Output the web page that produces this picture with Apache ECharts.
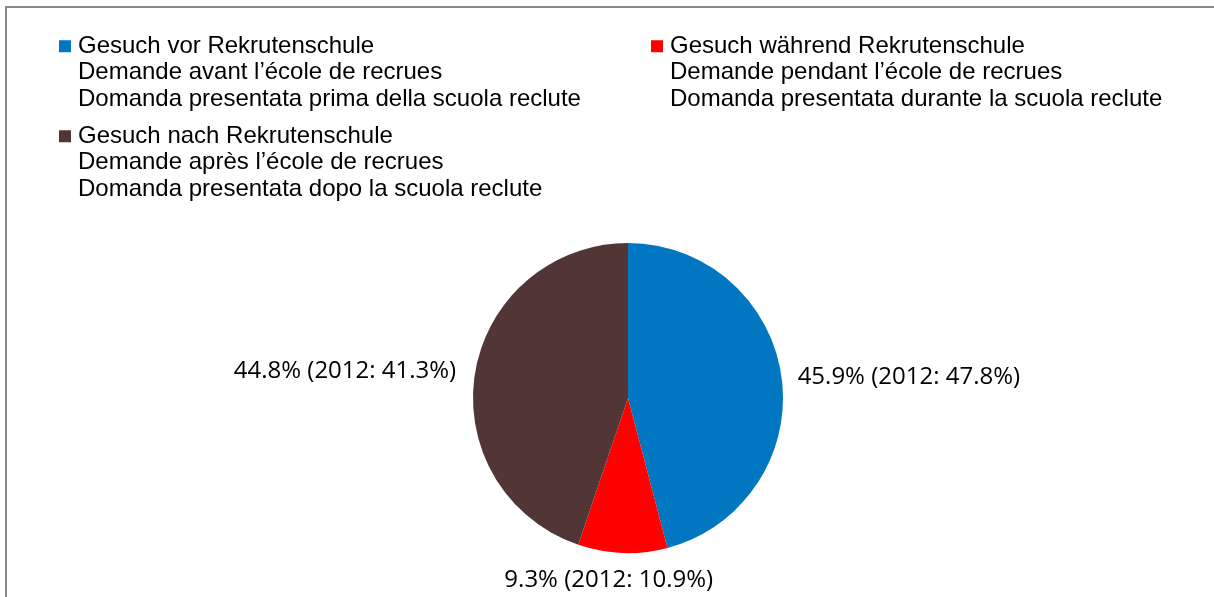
<!DOCTYPE html>
<html>

<head>
    <meta charset="utf-8" />
    <script src="https://cdn.jsdelivr.net/npm/echarts@6/dist/echarts.min.js"></script>
    <style>
        html, body { margin: 0; padding: 0; background: #fff; }
    </style>
</head>

<body>
    <div id="main" style="width: 1214px; height: 597px;"></div>
    <script type="text/javascript">
        // categories (legend names, 3 lines each)
        var categories = [
            'Gesuch vor Rekrutenschule\nDemande avant l\u2019école de recrues\nDomanda presentata prima della scuola reclute',
            'Gesuch während Rekrutenschule\nDemande pendant l\u2019école de recrues\nDomanda presentata durante la scuola reclute',
            'Gesuch nach Rekrutenschule\nDemande après l\u2019école de recrues\nDomanda presentata dopo la scuola reclute'
        ];
        var values = [45.9, 9.3, 44.8];       // 2013
        var values2012 = [47.8, 10.9, 41.3];  // previous year
        var colors = ['#0077C0', '#FF0000', '#523535'];

        var myChart = echarts.init(document.getElementById('main'));

        // tall legend icon: square on top, invisible point at the bottom right,
        // so the square lines up with the first of the three text lines
        var iconPath = 'path://M0,0L12,0L12,12L0,12Z M14,65L14.01,65';

        function makeLegend(i, left, top) {
            return {
                data: [categories[i]],
                left: left,
                top: top,
                itemWidth: 14,
                itemHeight: 65,
                icon: iconPath,
                selectedMode: false,
                textStyle: {
                    fontFamily: 'Liberation Sans, Arial, sans-serif',
                    fontSize: 24,
                    color: '#000',
                    lineHeight: 26.5
                }
            };
        }

        // per slice label line lengths (labels sit just outside the pie)
        var lineLen = [[8, 3], [27, 0], [10, 4]];

        var pieData = values.map(function (v, i) {
            return {
                name: categories[i],
                value: v,
                itemStyle: { color: colors[i] },
                labelLine: { show: false, length: lineLen[i][0], length2: lineLen[i][1] }
            };
        });

        var option = {
            animation: false,
            backgroundColor: '#fff',
            graphic: [{
                type: 'rect',
                shape: { x: 6, y: 7, width: 1300, height: 700 },
                style: { fill: 'none', stroke: '#8a8a8a', lineWidth: 2 },
                silent: true
            }],
            legend: [
                makeLegend(0, 54, 28),
                makeLegend(1, 646, 28),
                makeLegend(2, 54, 118)
            ],
            series: [{
                type: 'pie',
                center: [628, 398],
                radius: 155,
                startAngle: 90,
                clockwise: true,
                avoidLabelOverlap: false,
                data: pieData,
                label: {
                    show: true,
                    position: 'outside',
                    fontFamily: 'Open Sans, sans-serif',
                    fontSize: 24,
                    color: '#000',
                    formatter: function (p) {
                        return p.value.toFixed(1) + '% (2012: ' + values2012[p.dataIndex].toFixed(1) + '%)';
                    }
                },
                labelLayout: function (params) {
                    if (params.dataIndex === 1) {
                        return { align: 'center', dx: -8 };
                    }
                }
            }]
        };

        myChart.setOption(option);
    </script>
</body>

</html>
